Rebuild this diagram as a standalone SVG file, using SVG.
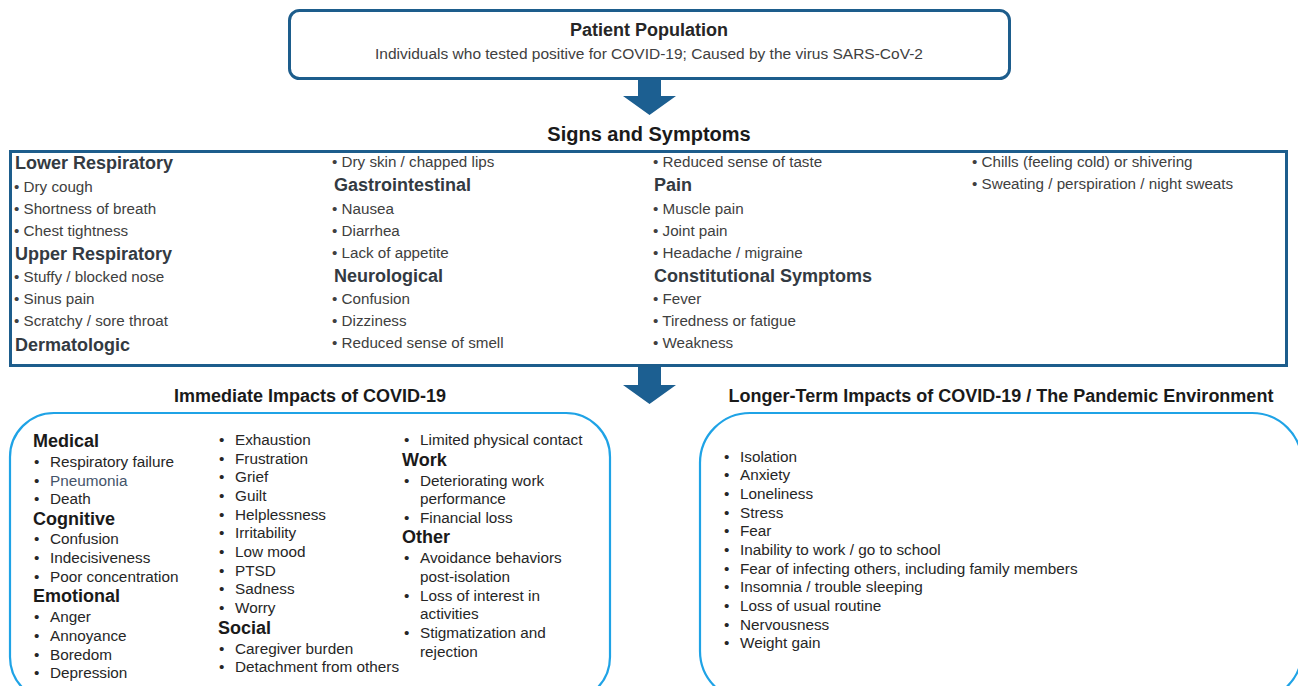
<svg xmlns="http://www.w3.org/2000/svg" width="1298" height="686" viewBox="0 0 1298 686">
  <style>
    text { font-family: "Liberation Sans", Arial, sans-serif; }
    .title { font-size: 18px; font-weight: bold; fill: #262626; }
    .sub { font-size: 15.5px; fill: #404040; }
    .head { font-size: 20px; font-weight: bold; fill: #1a1a1a; }
    .sh { font-size: 18px; font-weight: bold; fill: #333a42; }
    .si { font-size: 15.2px; fill: #404040; }
    .ih { font-size: 18px; font-weight: bold; fill: #1a1a1a; }
    .ii { font-size: 15.3px; fill: #262626; }
    .blue { fill: #44546a; }
    .dark { fill: none; stroke: #1d5d8c; stroke-width: 3; }
    .light { fill: none; stroke: #1fa3e6; stroke-width: 2.2; }
    .arrow { fill: #1c5f91; }
  </style>

  <!-- Patient population -->
  <g id="patient-population">
    <rect class="dark" x="289.5" y="10.5" width="720" height="68" rx="10"/>
    <text class="title" x="649" y="36" text-anchor="middle">Patient Population</text>
    <text class="sub" x="649" y="59" text-anchor="middle">Individuals who tested positive for COVID-19; Caused by the virus SARS-CoV-2</text>
  </g>

  <!-- Block arrows -->
  <g id="connectors">
    <polygon class="arrow" points="638,79 661,79 661,96 676,96 649.5,115 623,96 638,96"/>
    <polygon class="arrow" points="638,367 661,367 661,385 676,385 649.5,404 623,385 638,385"/>
  </g>

  <!-- Signs and symptoms -->
  <g id="signs-and-symptoms">
    <text class="head" x="649" y="141" text-anchor="middle">Signs and Symptoms</text>
    <rect class="dark" x="10.5" y="151.5" width="1276" height="214"/>
    <!-- column 1 -->
    <text class="sh" x="15" y="169">Lower Respiratory</text>
    <text class="si" x="14" y="192">• Dry cough</text>
    <text class="si" x="14" y="214">• Shortness of breath</text>
    <text class="si" x="14" y="236">• Chest tightness</text>
    <text class="sh" x="15" y="260">Upper Respiratory</text>
    <text class="si" x="14" y="282">• Stuffy / blocked nose</text>
    <text class="si" x="14" y="304">• Sinus pain</text>
    <text class="si" x="14" y="326">• Scratchy / sore throat</text>
    <text class="sh" x="15" y="351">Dermatologic</text>
    <!-- column 2 -->
    <text class="si" x="332" y="167">• Dry skin / chapped lips</text>
    <text class="sh" x="334" y="191">Gastrointestinal</text>
    <text class="si" x="332" y="214">• Nausea</text>
    <text class="si" x="332" y="236">• Diarrhea</text>
    <text class="si" x="332" y="258">• Lack of appetite</text>
    <text class="sh" x="334" y="282">Neurological</text>
    <text class="si" x="332" y="304">• Confusion</text>
    <text class="si" x="332" y="326">• Dizziness</text>
    <text class="si" x="332" y="348">• Reduced sense of smell</text>
    <!-- column 3 -->
    <text class="si" x="653" y="167">• Reduced sense of taste</text>
    <text class="sh" x="654" y="191">Pain</text>
    <text class="si" x="653" y="214">• Muscle pain</text>
    <text class="si" x="653" y="236">• Joint pain</text>
    <text class="si" x="653" y="258">• Headache / migraine</text>
    <text class="sh" x="654" y="282">Constitutional Symptoms</text>
    <text class="si" x="653" y="304">• Fever</text>
    <text class="si" x="653" y="326">• Tiredness or fatigue</text>
    <text class="si" x="653" y="348">• Weakness</text>
    <!-- column 4 -->
    <text class="si" x="972" y="167">• Chills (feeling cold) or shivering</text>
    <text class="si" x="972" y="189">• Sweating / perspiration / night sweats</text>
  </g>

  <!-- Immediate impacts -->
  <g id="immediate-impacts">
    <text class="ih" x="310" y="402" text-anchor="middle">Immediate Impacts of COVID-19</text>
    <rect class="light" x="10" y="413" width="600" height="288" rx="44"/>
    <!-- column 1 -->
    <text class="ih" x="33" y="447">Medical</text>
    <g class="ii">
      <text x="34" y="467">•</text><text x="50" y="467">Respiratory failure</text>
      <text x="34" y="486">•</text><text class="blue" x="50" y="486">Pneumonia</text>
      <text x="34" y="504">•</text><text x="50" y="504">Death</text>
    </g>
    <text class="ih" x="33" y="525">Cognitive</text>
    <g class="ii">
      <text x="34" y="544">•</text><text x="50" y="544">Confusion</text>
      <text x="34" y="563">•</text><text x="50" y="563">Indecisiveness</text>
      <text x="34" y="582">•</text><text x="50" y="582">Poor concentration</text>
    </g>
    <text class="ih" x="33" y="602">Emotional</text>
    <g class="ii">
      <text x="34" y="622">•</text><text x="50" y="622">Anger</text>
      <text x="34" y="641">•</text><text x="50" y="641">Annoyance</text>
      <text x="34" y="660">•</text><text x="50" y="660">Boredom</text>
      <text x="34" y="678">•</text><text x="50" y="678">Depression</text>
    </g>
    <!-- column 2 -->
    <g class="ii">
      <text x="219" y="445">•</text><text x="235" y="445">Exhaustion</text>
      <text x="219" y="464">•</text><text x="235" y="464">Frustration</text>
      <text x="219" y="482">•</text><text x="235" y="482">Grief</text>
      <text x="219" y="501">•</text><text x="235" y="501">Guilt</text>
      <text x="219" y="520">•</text><text x="235" y="520">Helplessness</text>
      <text x="219" y="538">•</text><text x="235" y="538">Irritability</text>
      <text x="219" y="557">•</text><text x="235" y="557">Low mood</text>
      <text x="219" y="576">•</text><text x="235" y="576">PTSD</text>
      <text x="219" y="594">•</text><text x="235" y="594">Sadness</text>
      <text x="219" y="613">•</text><text x="235" y="613">Worry</text>
    </g>
    <text class="ih" x="218" y="634">Social</text>
    <g class="ii">
      <text x="219" y="654">•</text><text x="235" y="654">Caregiver burden</text>
      <text x="219" y="672">•</text><text x="235" y="672">Detachment from others</text>
    </g>
    <!-- column 3 -->
    <g class="ii">
      <text x="404" y="445">•</text><text x="420" y="445">Limited physical contact</text>
    </g>
    <text class="ih" x="402" y="466">Work</text>
    <g class="ii">
      <text x="404" y="486">•</text><text x="420" y="486">Deteriorating work</text>
      <text x="420" y="504">performance</text>
      <text x="404" y="523">•</text><text x="420" y="523">Financial loss</text>
    </g>
    <text class="ih" x="402" y="543">Other</text>
    <g class="ii">
      <text x="404" y="563">•</text><text x="420" y="563">Avoidance behaviors</text>
      <text x="420" y="582">post-isolation</text>
      <text x="404" y="601">•</text><text x="420" y="601">Loss of interest in</text>
      <text x="420" y="619">activities</text>
      <text x="404" y="638">•</text><text x="420" y="638">Stigmatization and</text>
      <text x="420" y="657">rejection</text>
    </g>
  </g>

  <!-- Longer-term impacts -->
  <g id="longer-term-impacts">
    <text class="ih" x="1001" y="402" text-anchor="middle">Longer-Term Impacts of COVID-19 / The Pandemic Environment</text>
    <rect class="light" x="700" y="413" width="602" height="288" rx="50"/>
    <g class="ii">
      <text x="724" y="462">•</text><text x="740" y="462">Isolation</text>
      <text x="724" y="480">•</text><text x="740" y="480">Anxiety</text>
      <text x="724" y="499">•</text><text x="740" y="499">Loneliness</text>
      <text x="724" y="518">•</text><text x="740" y="518">Stress</text>
      <text x="724" y="536">•</text><text x="740" y="536">Fear</text>
      <text x="724" y="555">•</text><text x="740" y="555">Inability to work / go to school</text>
      <text x="724" y="574">•</text><text x="740" y="574">Fear of infecting others, including family members</text>
      <text x="724" y="592">•</text><text x="740" y="592">Insomnia / trouble sleeping</text>
      <text x="724" y="611">•</text><text x="740" y="611">Loss of usual routine</text>
      <text x="724" y="630">•</text><text x="740" y="630">Nervousness</text>
      <text x="724" y="648">•</text><text x="740" y="648">Weight gain</text>
    </g>
  </g>
</svg>
